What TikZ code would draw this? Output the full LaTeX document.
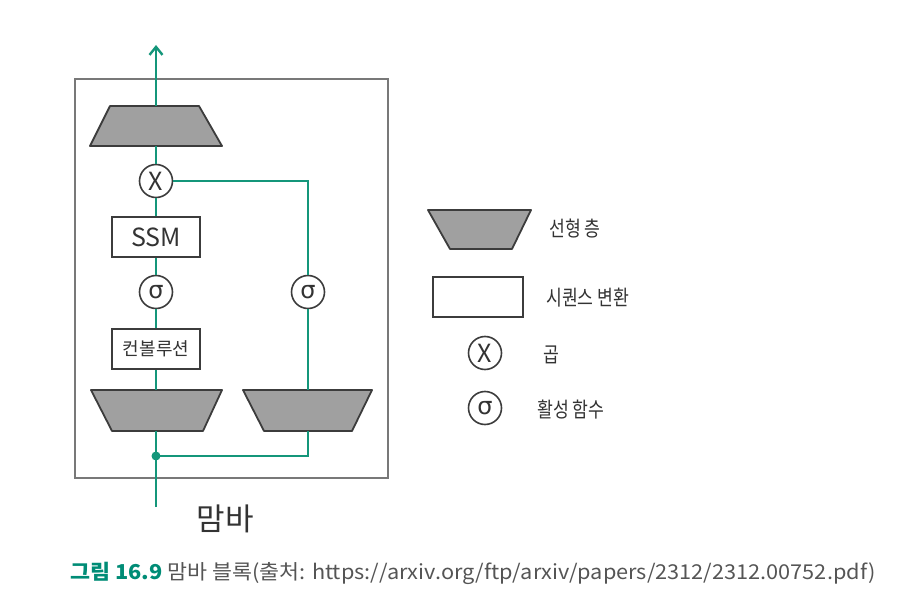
\documentclass[tikz,border=0pt]{standalone}
\usepackage{fontspec}
\setmainfont{Noto Sans CJK KR}
\newfontfamily\grk{DejaVu Sans}
\usetikzlibrary{arrows.meta,shapes.geometric}
\definecolor{tealline}{RGB}{20,150,122}
\definecolor{capteal}{RGB}{0,140,118}
\definecolor{trapfill}{RGB}{160,160,160}
\definecolor{outline}{RGB}{60,60,60}
\definecolor{boxgray}{RGB}{120,120,120}
\definecolor{captext}{RGB}{85,85,85}
\newcommand{\sig}{{\grk\fontsize{24}{26}\selectfont σ}}
\newcommand{\lbl}[1]{\scalebox{0.82}[1]{#1}}
\begin{document}
\begin{tikzpicture}[x=1pt,y=-1pt,
  lin/.style={tealline,line width=2.6pt},
  trapshape/.style={draw=outline,fill=trapfill,line width=1.8pt,line join=round},
  seqbox/.style={rectangle,draw=outline,fill=white,line width=1.6pt,inner sep=0pt,minimum width=88pt,minimum height=40pt,text=black!80},
  opcirc/.style={circle,draw=outline,fill=white,line width=1.6pt,inner sep=0pt,minimum size=33pt,text=black!80,font=\fontsize{25}{26}\selectfont},
  leglabel/.style={anchor=west,inner sep=0pt,text=black!80,font=\fontsize{21}{24}\selectfont}
]
\useasboundingbox (0,0) rectangle (909,612);
% outer box
\draw[boxgray,line width=1.5pt] (75,79) rectangle (388,478);
% trapezoids (linear layers)
\draw[trapshape] (110,106) -- (199,106) -- (222,146) -- (90,146) -- cycle;
\coordinate (t1n) at (156,106); \coordinate (t1s) at (156,146);
\draw[trapshape] (91,390) -- (222,390) -- (203,431) -- (112,431) -- cycle;
\coordinate (t2n) at (156,390); \coordinate (t2s) at (156,431);
\draw[trapshape] (243,390) -- (372,390) -- (352,431) -- (264,431) -- cycle;
\coordinate (t3n) at (308,390); \coordinate (t3s) at (308,431);
% nodes
\node[opcirc] (x1) at (156,181) {X};
\node[seqbox,font=\fontsize{25}{27}\selectfont] (ssm) at (156,237) {SSM};
\node[opcirc] (s1) at (156,292) {\sig};
\node[seqbox,font=\fontsize{18}{20}\selectfont] (conv) at (156,349) {컨볼루션};
\node[opcirc] (s2) at (308,292) {\sig};
\coordinate (j) at (156,456);
\coordinate (in) at (156,507);
\coordinate (out) at (156,45);
% connectors
\draw[lin] (in) -- (j) -- (t2s);
\draw[lin] (j) -| (t3s);
\draw[lin] (t2n) -- (conv.south);
\draw[lin] (conv.north) -- (s1.south);
\draw[lin] (s1.north) -- (ssm.south);
\draw[lin] (ssm.north) -- (x1.south);
\draw[lin] (x1.north) -- (t1s);
\draw[lin,-{Straight Barb[length=8pt,width=13pt,line width=2.4pt]}] (t1n) -- (out);
\draw[lin] (t3n) -- (s2.south);
\draw[lin] (s2.north) |- (x1.east);
\fill[tealline] (j) circle (4.5pt);
\node[font=\fontsize{31}{33}\selectfont,text=black!80] (mamba) at (225,519) {맘바};
% legend
\draw[trapshape] (428,210) -- (531,210) -- (512,249) -- (450,249) -- cycle;
\node[seqbox,minimum width=90pt] (lr) at (478,297) {};
\node[opcirc] (lx) at (485,353) {X};
\node[opcirc] (ls) at (485,408) {\sig};
\node[leglabel] (llt) at (549,229) {\lbl{선형 층}};
\node[leglabel] (llr) at (546,298) {\lbl{시퀀스 변환}};
\node[leglabel] (llx) at (543,355) {\lbl{곱}};
\node[leglabel] (lls) at (537,410) {\lbl{활성 함수}};
% caption
\node[anchor=west,inner sep=0pt,font=\fontsize{20.5}{23}\selectfont] (cap) at (70,573)
  {\scalebox{1.06}[1]{\textcolor{capteal}{\bfseries 그림 16.9}\ \textcolor{captext}{맘바 블록(출처: https://arxiv.org/ftp/arxiv/papers/2312/2312.00752.pdf)}}};
\end{tikzpicture}
\end{document}
